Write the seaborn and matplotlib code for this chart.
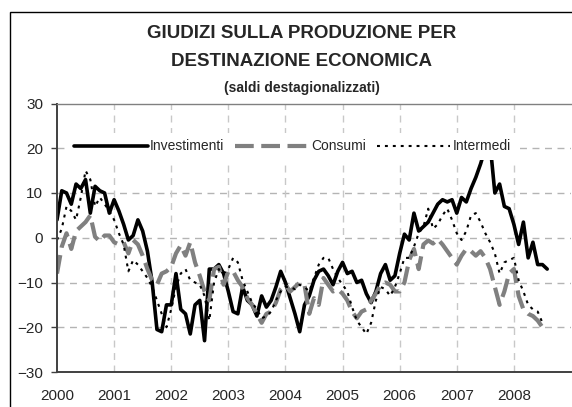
import numpy as np
import pandas as pd
import matplotlib
matplotlib.use("Agg")
import matplotlib.pyplot as plt
from matplotlib.patches import Rectangle
import seaborn as sns

# ============================================================
# Data (monthly balances, Jan 2000 onwards)
# ============================================================

investimenti = [4, 10.5, 10, 7.5, 12, 11, 13, 5.5, 11.5, 10.5, 10, 5.5,
                8.5, 6, 3, -0.5, 0.5, 4, 1.5, -3, -10, -20.5, -21, -15,
                -15, -8, -16, -17, -21.5, -15, -14, -23, -7, -7, -6, -8,
                -12, -16.5, -17, -11, -14, -15, -17.5, -13, -15.5, -14, -11, -7.5,
                -10, -13.5, -17, -21, -15, -13, -9.5, -7.5, -7, -8.5, -10.5, -7.5,
                -5.5, -8, -7.5, -10, -9.5, -12.5, -14.5, -12, -8, -6, -9.5, -8.5,
                -3.5, 0.8, -0.5, 5.5, 1.5, 2.5, 3.5, 5.5, 7.5, 8.5, 8, 8.5,
                5.5, 9, 8, 11, 13.5, 16.5, 20, 21, 10, 12, 7, 6.5,
                3, -1.5, 3.5, -4.5, -1, -6, -6, -7]

consumi = [-8, -2, 1, -2.5, 1.5, 2.5, 3.5, 5, 0.2, -0.8, 0.5, 0.5,
           -1, -1.5, -1, -3.5, -0.5, -1.5, -4, -7, -9.5, -10.5, -8, -7.5,
           -6.5, -3.5, -1.7, -4, -1, -5.5, -8.5, -12, -14, -7, -6.5, -10.5,
           -7.5, -7.5, -9.5, -11, -13.5, -15, -17, -19, -17, -16.5, -14.5, -11.5,
           -10.5, -12, -11, -10, -10.5, -17, -13.5, -15, -9, -10.5, -12, -11.5,
           -12.5, -14, -16.5, -18, -16.5, -16, -14, -12.5, -10.5, -10, -10.5, -12,
           -12, -10, -5, -2.5, -7, -1.5, -0.6, -1.3, -0.3, -1.5, -3, -4.5,
           -6, -4, -2.5, -3, -4, -3, -4.5, -7, -11, -15, -12, -8,
           -7, -13, -16, -17, -17.5, -18.5, -20]

intermedi = [-0.5, 2, 7, 6, 4, 9, 15, 13, 7, 9, 7.5, 6,
             4, 1, -1.5, -7.5, -5, -6, -7.5, -9, -11, -14, -17, -20,
             -16, -11, -8, -7, -9.5, -10, -10.5, -13, -18.5, -10, -7, -8,
             -7, -4.5, -5.5, -9.5, -12, -14.5, -16, -18, -17.5, -16.5, -14, -12,
             -11, -11, -11.5, -10.5, -11, -12, -9, -6, -4.5, -4.5, -7, -9,
             -10.5, -12, -15.5, -18.5, -20, -21.5, -19, -14, -11, -11.5, -13, -11,
             -8, -4.5, -4.5, -2, 1, 2.5, 6.5, 2, 3, 5, 6.5, 4,
             1, -0.5, 1.5, 5, 5.5, 3.5, 1, -1, -3.5, -8, -5.5, -5,
             -4.5, -9.5, -12, -15, -16, -16.5, -19]

series_names = ["Investimenti", "Consumi", "Intermedi"]
year_labels = ["2000", "2001", "2002", "2003", "2004", "2005", "2006", "2007", "2008"]


def monthly_frame(values, name):
    t = 2000 + np.arange(len(values)) / 12.0
    return pd.DataFrame({"t": t, "saldo": values, "serie": name})


df = pd.concat([monthly_frame(investimenti, "Investimenti"),
                monthly_frame(consumi, "Consumi"),
                monthly_frame(intermedi, "Intermedi")], ignore_index=True)

# ============================================================
# Plot
# ============================================================

sns.set_style("white")
plt.rcParams["font.family"] = ["Liberation Sans", "DejaVu Sans"]

fig = plt.figure(figsize=(5.72, 4.07), dpi=100)
ax = fig.add_axes([57 / 572, 35 / 407, 514 / 572, 268.5 / 407])

styles = {
    "Investimenti": dict(color="black", lw=2.6),
    "Consumi": dict(color="#808080", lw=3.0),
    "Intermedi": dict(color="black", lw=1.5),
}
dash_patterns = {"Investimenti": None, "Consumi": (4.5, 1.8), "Intermedi": (1.4, 2.4)}

for name in series_names:
    sub = df[df["serie"] == name]
    sns.lineplot(data=sub, x="t", y="saldo", ax=ax, label=name, **styles[name])
    if dash_patterns[name] is not None:
        ax.lines[-1].set_dashes(dash_patterns[name])
        ax.lines[-1].set_dash_capstyle("butt")

ax.set_xlim(2000, 2009)
ax.set_ylim(-30, 30)
ax.set_yticks(np.arange(-30, 31, 10))
ax.set_xticks(np.arange(2000, 2009))
ax.set_xticklabels(year_labels)
ax.set_xlabel("")
ax.set_ylabel("")

# dashed grid
for yv in [-20, -10, 0, 10, 20]:
    ax.axhline(yv, color="#b4b4b4", lw=1, dashes=(5, 4), zorder=0)
for xv in range(2001, 2009):
    ax.axvline(xv, color="#c8c8c8", lw=1, dashes=(5, 4), zorder=0)

ax.spines["right"].set_visible(False)
ax.spines["top"].set_color("#808080")
ax.spines["top"].set_linewidth(1.0)
for side in ["left", "bottom"]:
    ax.spines[side].set_color("#404040")
    ax.spines[side].set_linewidth(1.4)

ax.tick_params(axis="y", direction="out", length=4, width=1, color="#404040",
               labelsize=11, pad=6, left=True)
ax.tick_params(axis="x", length=0, labelsize=11, pad=12)

# opaque legend box: it hides the top of the Investimenti peak as in the original
leg = ax.legend(loc="center", bbox_to_anchor=(0.458, 0.84), ncol=3, frameon=True,
                fontsize=10, handlelength=5.3, handletextpad=0.15, columnspacing=0.8,
                borderpad=0.5, fancybox=False, framealpha=1.0)
leg.get_frame().set_facecolor("white")
leg.get_frame().set_edgecolor("none")
leg.get_frame().set_linewidth(0)
leg.set_zorder(5)

# outer chart frame
fig.patches.append(Rectangle((10 / 572, -0.05), 1.0, 395 / 407 + 0.05,
                             transform=fig.transFigure, fill=False,
                             edgecolor="black", lw=1.0))

fig.text(0.527, 1 - 33 / 407, "GIUDIZI SULLA PRODUZIONE PER", ha="center", va="center",
         fontsize=13.5, fontweight="bold")
fig.text(0.527, 1 - 61 / 407, "DESTINAZIONE ECONOMICA", ha="center", va="center",
         fontsize=13.5, fontweight="bold")
fig.text(0.527, 1 - 88 / 407, "(saldi destagionalizzati)", ha="center", va="center",
         fontsize=10, fontweight="bold")

fig.savefig("out.png", dpi=100)
